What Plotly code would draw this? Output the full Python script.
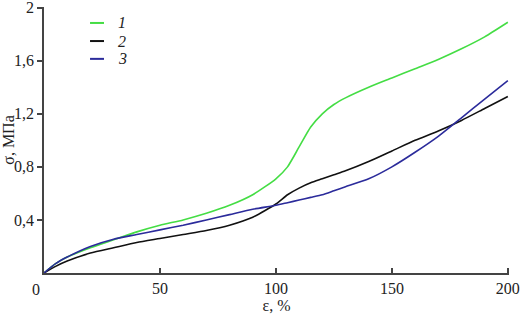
import plotly.graph_objects as go

eps = [0, 5, 10, 20, 30, 40, 50, 60, 70, 80, 90, 100, 105, 110, 115, 120, 125, 130, 140, 150, 160, 170, 180, 190, 200]
s1 = [0, 0.07, 0.12, 0.19, 0.25, 0.31, 0.36, 0.40, 0.45, 0.51, 0.59, 0.71, 0.80, 0.95, 1.10, 1.20, 1.27, 1.32, 1.40, 1.47, 1.54, 1.61, 1.69, 1.78, 1.89]
s2 = [0, 0.05, 0.09, 0.15, 0.19, 0.23, 0.26, 0.29, 0.32, 0.36, 0.42, 0.52, 0.59, 0.64, 0.68, 0.71, 0.74, 0.77, 0.84, 0.92, 1.00, 1.07, 1.15, 1.24, 1.33]
s3 = [0, 0.07, 0.12, 0.20, 0.255, 0.29, 0.325, 0.36, 0.40, 0.44, 0.48, 0.51, 0.53, 0.55, 0.57, 0.59, 0.62, 0.65, 0.71, 0.80, 0.91, 1.03, 1.17, 1.31, 1.45]

series_names = ["1", "2", "3"]
series_colors = ["#44dd44", "#111111", "#2b2b9b"]

xtick_vals = [50, 100, 150, 200]
xtick_text = ["50", "100", "150", "200"]
ytick_vals = [0.4, 0.8, 1.2, 1.6, 2.0]
ytick_text = ["0,4", "0,8", "1,2", "1,6", "2"]

font = "Liberation Serif"

fig = go.Figure()
for ys, name, col in zip([s1, s2, s3], series_names, series_colors):
    fig.add_trace(go.Scatter(x=eps, y=ys, mode="lines", name=name,
                             line=dict(color=col, width=1.6, shape="spline", smoothing=0.6),
                             showlegend=False))

leg_y = [0.94, 0.872, 0.805]
for name, col, yy in zip(series_names, series_colors, leg_y):
    fig.add_shape(type="line", xref="paper", yref="paper", x0=0.099, x1=0.129, y0=yy, y1=yy,
                  line=dict(color=col, width=2))
    fig.add_annotation(xref="paper", yref="paper", x=0.155, y=yy, text=f"<i>{name}</i>",
                       showarrow=False, xanchor="left", yanchor="middle",
                       font=dict(family=font, size=16, color="#222"))

fig.add_annotation(x=0, y=0, xref="x", yref="y", text="0", showarrow=False,
                   xanchor="center", yanchor="top", xshift=-8, yshift=-6,
                   font=dict(family=font, size=16, color="#222"))

fig.update_layout(
    width=522, height=318,
    margin=dict(l=44, r=13, t=7, b=45),
    plot_bgcolor="white", paper_bgcolor="white",
    font=dict(family=font, size=16, color="#222"),
    xaxis=dict(range=[0, 200.5], tickvals=xtick_vals, ticktext=xtick_text, automargin=False,
               ticklabeloverflow="allow",
               showgrid=False, zeroline=False, showline=True, linecolor="#444", linewidth=1.5,
               ticks="inside", ticklen=5, tickcolor="#444", tickwidth=1.5,
               title=dict(text="ε, %", font=dict(family=font, size=16), standoff=0)),
    yaxis=dict(range=[0, 2.005], tickvals=ytick_vals, ticktext=ytick_text, automargin=False,
               ticklabeloverflow="allow",
               showgrid=False, zeroline=False, showline=True, linecolor="#444", linewidth=1.5,
               ticks="outside", ticklen=5, tickcolor="#444", tickwidth=1.5,
               title=dict(text="σ, МПа", font=dict(family=font, size=16), standoff=4)),
)

fig.write_html("out.html", config={"displayModeBar": False},
               post_script="document.body.style.margin='0';document.body.style.overflow='hidden';")
